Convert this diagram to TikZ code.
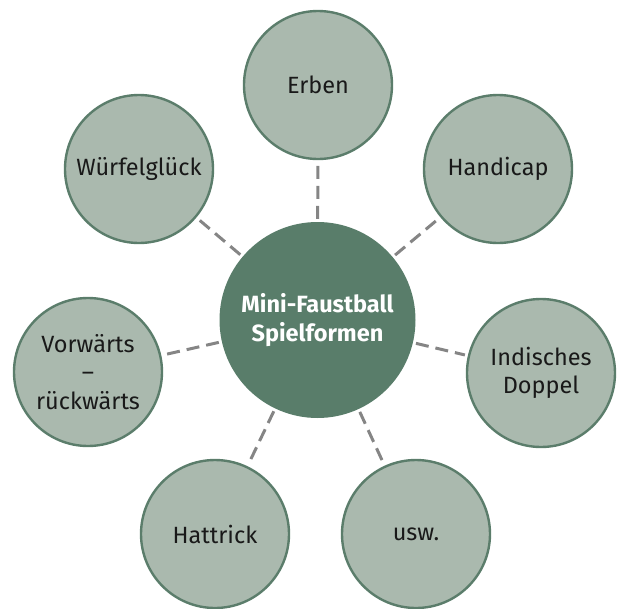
\documentclass[tikz,border=0pt]{standalone}
\usepackage{fontspec}
\setmainfont{Fira Sans}
\definecolor{leafgreen}{HTML}{AAB9AE}
\definecolor{ringgreen}{HTML}{5B7D6B}
\definecolor{hubgreen}{HTML}{597D6A}
\definecolor{linkgray}{HTML}{858585}
\begin{document}
\begin{tikzpicture}[x=1pt,y=-1pt,
  leaf/.style={circle, draw=ringgreen, line width=2.4pt, fill=leafgreen,
    minimum size=148pt, inner sep=0pt, align=center, text=black!90,
    font=\fontsize{23.5}{28.5}\selectfont},
  hub/.style={circle, fill=hubgreen, minimum size=196pt, inner sep=0pt,
    align=center, text=white, font=\fontsize{23.5}{29}\selectfont\bfseries},
  link/.style={draw=linkgray, line width=3pt, dash pattern=on 13pt off 7pt,
    shorten <=3pt, shorten >=3pt}]
\useasboundingbox (0,0) rectangle (624,608);

% central topic
\node[hub] (hub) at (317.5,320) {Mini-Faustball\\Spielformen};

% surrounding game forms
\node[leaf] (erben)    at (318,85)  {Erben};
\node[leaf] (handicap) at (498,169) {Handicap};
\node[leaf] (doppel)   at (541,373) {Indisches\\Doppel};
\node[leaf] (usw)      at (416,534) {usw.};
\node[leaf] (hattrick) at (215,534) {Hattrick};
\node[leaf] (vorw)     at (88,372)  {Vorwärts\\–\\rückwärts};
\node[leaf] (wuerfel)  at (139,169) {Würfelglück};

% dashed spokes
\foreach \n in {erben,handicap,doppel,usw,hattrick,vorw,wuerfel}
  \draw[link] (hub) -- (\n);
\end{tikzpicture}
\end{document}
